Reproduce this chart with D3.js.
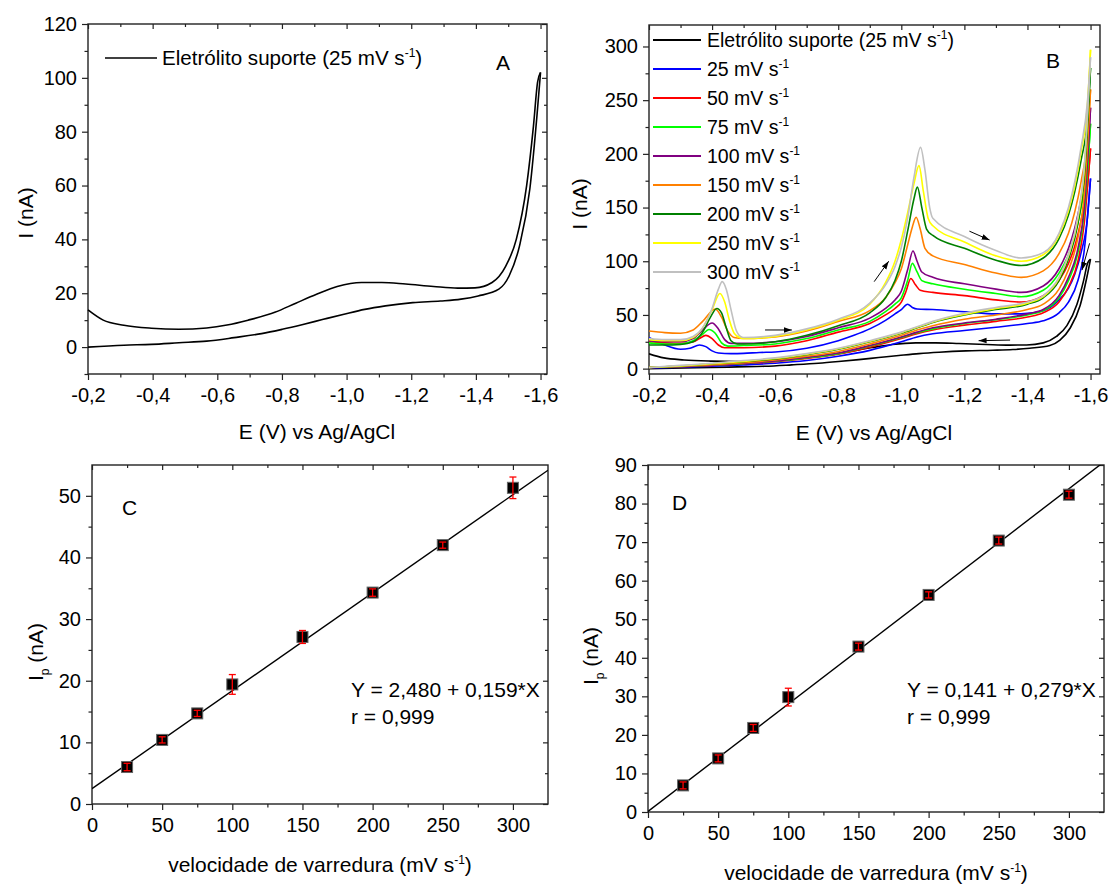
<!DOCTYPE html>
<html>
<head>
<meta charset="utf-8">
<script src="https://cdn.jsdelivr.net/npm/d3@7"></script>
<style>
  body { margin: 0; background: #fff; }
  text { font-family: "Liberation Sans", Arial, sans-serif; fill: #000; }
</style>
</head>
<body>
<div id="chart"></div>
<script>
// ---- data ----

// panel A / black curve in B: supporting electrolyte, 25 mV/s  [E (V), I (nA)]
const blankUpper = [[-0.2,13.8],[-0.247,10],[-0.311,8.1],[-0.396,7],[-0.481,6.6],[-0.567,7.1],[-0.63,8.2],[-0.695,10],
  [-0.78,13],[-0.843,16.3],[-0.907,19.6],[-0.971,22.5],[-1.046,24],[-1.109,24],[-1.183,23.4],[-1.269,22.5],
  [-1.344,21.9],[-1.397,22],[-1.45,24],[-1.492,30],[-1.525,40],[-1.557,60],[-1.578,82],[-1.591,98.5],[-1.6,102]];
const blankLower = [[-0.2,0],[-0.311,0.7],[-0.396,1],[-0.481,1.6],[-0.567,2.2],[-0.652,3.5],[-0.737,5],[-0.801,6.6],
  [-0.865,8.4],[-0.928,10.3],[-0.992,12.2],[-1.056,14],[-1.12,15.3],[-1.205,16.5],[-1.29,17.1],[-1.354,17.8],
  [-1.407,19],[-1.471,21.5],[-1.503,26.5],[-1.535,37.6],[-1.567,58.8],[-1.589,86],[-1.6,102]];

// panel B: forward (upper) and reverse (lower) branches per scan rate
const fwd25 = [[-0.2,29],[-0.25,22],[-0.3,18],[-0.33,19],[-0.36,22],[-0.38,20.5],[-0.4,16.5],[-0.42,14.5],[-0.46,14],
  [-0.5,14.2],[-0.55,15],[-0.6,15.5],[-0.7,19],[-0.8,26],[-0.85,31],[-0.9,37],[-0.95,45],[-0.98,51],[-1.0,55],
  [-1.02,60],[-1.035,57],[-1.05,55.5],[-1.1,55],[-1.2,53],[-1.3,51],[-1.38,51],[-1.45,54],[-1.5,64],[-1.53,75],
  [-1.55,88],[-1.57,108],[-1.59,140],[-1.6,177]];
const rev25 = [[-0.2,0.5],[-0.3,1.3],[-0.4,2.3],[-0.5,3.5],[-0.6,5],[-0.7,7.5],[-0.8,11.5],[-0.9,17],[-1.0,25],
  [-1.05,29.5],[-1.1,32.5],[-1.2,35.5],[-1.3,38.5],[-1.4,42],[-1.45,44.5],[-1.5,52],[-1.53,62],[-1.56,82],
  [-1.58,110],[-1.6,177]];
const fwd50 = [[-0.2,25],[-0.25,24],[-0.3,23.5],[-0.34,25],[-0.36,28],[-0.38,31],[-0.4,28],[-0.42,22],[-0.44,19.5],
  [-0.5,19.5],[-0.6,21],[-0.7,26],[-0.8,34],[-0.9,42],[-0.95,50],[-0.98,56],[-1.0,62],[-1.015,72],[-1.03,84],
  [-1.045,78],[-1.06,73],[-1.1,71],[-1.2,68],[-1.3,64],[-1.38,62],[-1.45,68],[-1.5,82],[-1.53,98],[-1.55,114],
  [-1.57,138],[-1.59,170],[-1.6,205]];
const rev50 = [[-0.2,1],[-0.3,1.8],[-0.4,3],[-0.5,4.5],[-0.6,6.5],[-0.7,9.5],[-0.8,13.5],[-0.9,20],[-1.0,28],
  [-1.05,32.5],[-1.1,36],[-1.2,40.5],[-1.3,44],[-1.4,48],[-1.45,52],[-1.5,62],[-1.53,76],[-1.56,100],
  [-1.58,135],[-1.6,205]];
const fwd75 = [[-0.2,24],[-0.25,23],[-0.3,23],[-0.34,26],[-0.37,32],[-0.39,36.5],[-0.41,33],[-0.43,24],[-0.45,21],
  [-0.5,21.5],[-0.6,23],[-0.7,28],[-0.8,36],[-0.9,44],[-0.95,53],[-0.98,60],[-1.0,66],[-1.02,82],[-1.035,98],
  [-1.05,90],[-1.065,82],[-1.1,79],[-1.2,74],[-1.3,70],[-1.38,67],[-1.45,73],[-1.5,89],[-1.53,106],[-1.55,124],
  [-1.57,150],[-1.59,185],[-1.6,228]];
const rev75 = [[-0.2,1],[-0.3,2],[-0.4,3.2],[-0.5,4.8],[-0.6,7],[-0.7,10],[-0.8,14],[-0.9,21],[-1.0,29],
  [-1.05,33.5],[-1.1,37],[-1.2,42],[-1.3,45.5],[-1.4,50],[-1.45,54],[-1.5,66],[-1.53,82],[-1.56,108],
  [-1.58,145],[-1.6,228]];
const fwd100 = [[-0.2,26],[-0.25,25],[-0.3,25],[-0.34,28],[-0.37,36],[-0.4,42.5],[-0.42,37],[-0.44,27],[-0.46,23.5],
  [-0.5,23.5],[-0.6,25],[-0.7,30],[-0.8,38],[-0.9,47],[-0.95,56],[-0.98,64],[-1.0,72],[-1.02,92],[-1.037,109.5],
  [-1.05,100],[-1.065,90],[-1.1,85],[-1.2,79],[-1.3,74],[-1.38,71],[-1.45,77],[-1.5,93],[-1.53,112],[-1.55,131],
  [-1.57,158],[-1.59,196],[-1.6,243]];
const rev100 = [[-0.2,1],[-0.3,2],[-0.4,3.3],[-0.5,5],[-0.6,7.2],[-0.7,10.5],[-0.8,14.5],[-0.9,21.5],[-1.0,29.5],
  [-1.05,34],[-1.1,38],[-1.2,42.5],[-1.3,46],[-1.4,51],[-1.45,55],[-1.5,68],[-1.53,85],[-1.56,112],
  [-1.58,150],[-1.6,243]];
const fwd150 = [[-0.2,35],[-0.25,33.5],[-0.3,33],[-0.34,36],[-0.37,44],[-0.41,55.5],[-0.43,48],[-0.45,35],[-0.47,29],
  [-0.5,28],[-0.6,29.5],[-0.7,35],[-0.8,44],[-0.9,54],[-0.95,66],[-0.98,80],[-1.0,93],[-1.02,115],[-1.035,132],
  [-1.047,141],[-1.06,130],[-1.075,112],[-1.1,105],[-1.2,97],[-1.3,89],[-1.38,85],[-1.45,91],[-1.5,107],
  [-1.53,126],[-1.55,146],[-1.57,174],[-1.59,214],[-1.6,260]];
const rev150 = [[-0.2,1.2],[-0.3,2.2],[-0.4,3.6],[-0.5,5.5],[-0.6,8],[-0.7,11.5],[-0.8,16],[-0.9,23],[-1.0,31],
  [-1.05,36],[-1.1,40],[-1.2,46],[-1.3,50],[-1.4,55],[-1.45,60],[-1.5,74],[-1.53,92],[-1.56,122],
  [-1.58,162],[-1.6,260]];
const fwd200 = [[-0.2,22],[-0.25,22],[-0.3,22.5],[-0.34,25],[-0.37,34],[-0.395,48],[-0.415,56],[-0.43,52],[-0.445,38],
  [-0.46,26],[-0.48,23],[-0.5,23],[-0.6,25],[-0.7,31],[-0.8,40],[-0.9,52],[-0.95,66],[-0.98,82],[-1.0,100],
  [-1.02,128],[-1.04,158],[-1.051,169],[-1.065,150],[-1.08,130],[-1.1,124],[-1.2,112],[-1.3,101],[-1.38,96],
  [-1.45,103],[-1.5,121],[-1.53,143],[-1.55,165],[-1.57,194],[-1.59,232],[-1.6,280]];
const rev200 = [[-0.2,1],[-0.3,2.5],[-0.4,4.5],[-0.5,6.5],[-0.6,9],[-0.7,13],[-0.8,18],[-0.9,25],[-1.0,33],
  [-1.05,38],[-1.1,43],[-1.2,50],[-1.3,55],[-1.4,60],[-1.45,66],[-1.5,82],[-1.53,102],[-1.56,135],
  [-1.58,178],[-1.6,280]];
const fwd250 = [[-0.2,27],[-0.25,26],[-0.3,26],[-0.34,29],[-0.37,38],[-0.4,55],[-0.425,70],[-0.44,62],[-0.455,45],
  [-0.47,33],[-0.49,28.5],[-0.5,28],[-0.6,30],[-0.7,36],[-0.8,45],[-0.9,60],[-0.95,80],[-0.98,100],[-1.0,120],
  [-1.02,145],[-1.04,172],[-1.056,189],[-1.07,165],[-1.085,140],[-1.1,133],[-1.2,118],[-1.3,105],[-1.38,100],
  [-1.45,106],[-1.5,124],[-1.53,147],[-1.55,170],[-1.57,202],[-1.59,245],[-1.6,297]];
const rev250 = [[-0.2,1],[-0.3,2.5],[-0.4,4.5],[-0.5,6.8],[-0.6,9.5],[-0.7,13.5],[-0.8,18.5],[-0.9,25.5],[-1.0,33.5],
  [-1.05,38.5],[-1.1,43.5],[-1.2,50.5],[-1.3,56],[-1.4,61],[-1.45,67],[-1.5,84],[-1.53,105],[-1.56,140],
  [-1.58,185],[-1.6,297]];
const fwd300 = [[-0.2,28],[-0.25,27],[-0.3,27],[-0.34,30],[-0.37,38],[-0.4,56],[-0.42,74],[-0.432,81],[-0.445,74],
  [-0.46,55],[-0.475,37],[-0.49,30],[-0.5,29],[-0.6,31],[-0.7,37],[-0.8,46],[-0.9,61],[-0.95,78],[-0.98,95],
  [-1.0,113],[-1.02,140],[-1.04,178],[-1.061,206],[-1.075,185],[-1.09,150],[-1.1,140],[-1.2,123],[-1.3,110],
  [-1.38,103],[-1.45,108],[-1.5,126],[-1.53,150],[-1.55,174],[-1.57,206],[-1.59,248],[-1.6,290]];
const rev300 = [[-0.2,1],[-0.3,3],[-0.4,5],[-0.5,7.5],[-0.6,10],[-0.7,14],[-0.8,19],[-0.9,26],[-1.0,34],
  [-1.05,39],[-1.1,44],[-1.2,51.5],[-1.3,57],[-1.4,62],[-1.45,68],[-1.5,85],[-1.53,106],[-1.56,142],
  [-1.58,188],[-1.6,290]];

const scanRates = [25, 50, 75, 100, 150, 200, 250, 300];
const scanColors = ["#0000ff", "#ff0000", "#00ff00", "#800080", "#ff8000", "#008000", "#ffff00", "#c0c0c0"];
const scanBranches = [[fwd25, rev25], [fwd50, rev50], [fwd75, rev75], [fwd100, rev100],
  [fwd150, rev150], [fwd200, rev200], [fwd250, rev250], [fwd300, rev300]];

// arrows in B: [E0, I0, E1, I1]
const arrowsB = [[-0.568,36,-0.653,36],[-0.914,81,-0.96,100],[-1.216,128,-1.28,119.7],
  [-1.597,116.7,-1.573,91.8],[-1.345,26.6,-1.245,26]];

// panels C and D: peak current vs scan rate
const rateC = [25, 50, 75, 100, 150, 200, 250, 300];
const ipC = [6.0, 10.4, 14.7, 19.4, 27.1, 34.3, 42.0, 51.3];
const errC = [0.6, 0.5, 0.5, 1.6, 1.05, 0.6, 0.5, 1.75];
const fitC = [2.480, 0.159];
const rateD = [25, 50, 75, 100, 150, 200, 250, 300];
const ipD = [6.9, 13.9, 21.8, 29.8, 42.9, 56.3, 70.4, 82.3];
const errD = [0.9, 0.9, 0.9, 2.3, 0.9, 0.8, 0.9, 0.9];
const fitD = [0.141, 0.279];

// ticks
const eMajor = [-0.2, -0.4, -0.6, -0.8, -1.0, -1.2, -1.4, -1.6];
const eMinor = [-0.3, -0.5, -0.7, -0.9, -1.1, -1.3, -1.5];
const iMajorA = [0, 20, 40, 60, 80, 100, 120];
const iMinorA = [-10, 10, 30, 50, 70, 90, 110];
const iMajorB = [0, 50, 100, 150, 200, 250, 300];
const iMinorB = [25, 75, 125, 175, 225, 275];
const vMajor = [0, 50, 100, 150, 200, 250, 300];
const vMinor = [25, 75, 125, 175, 225, 275];
const iMajorC = [0, 10, 20, 30, 40, 50];
const iMinorC = [5, 15, 25, 35, 45];
const iMajorD = [0, 10, 20, 30, 40, 50, 60, 70, 80, 90];
const iMinorD = [5, 15, 25, 35, 45, 55, 65, 75, 85];

// ---- drawing ----
const W = 1109, H = 884;
const svg = d3.select("#chart").append("svg")
  .attr("width", W).attr("height", H);

const defs = svg.append("defs");
defs.append("marker")
  .attr("id", "head").attr("viewBox", "0 0 10 10")
  .attr("refX", 10).attr("refY", 5)
  .attr("markerWidth", 8).attr("markerHeight", 8)
  .attr("markerUnits", "userSpaceOnUse")
  .attr("orient", "auto")
  .append("path").attr("d", "M0,1.5 L10,5 L0,8.5 z").attr("fill", "#000");

const commaFmt = d => d.toFixed(1).replace(".", ",");
const intFmt = d => String(d);

function panel(box, xDom, yDom, xMajor, xMinor, yMajor, yMinor, xFmt, id) {
  const x = d3.scaleLinear().domain(xDom).range([box.l, box.r]);
  const y = d3.scaleLinear().domain(yDom).range([box.b, box.t]);
  const g = svg.append("g");

  g.append("clipPath").attr("id", id)
    .append("rect").attr("x", box.l).attr("y", box.t)
    .attr("width", box.r - box.l).attr("height", box.b - box.t);

  const axes = [
    [d3.axisBottom(x).tickValues(xMajor).tickSize(6).tickPadding(8).tickFormat(xFmt), `translate(0,${box.b})`],
    [d3.axisBottom(x).tickValues(xMinor).tickSize(3.5).tickFormat(""), `translate(0,${box.b})`],
    [d3.axisTop(x).tickValues(xMajor).tickSize(-5).tickFormat(""), `translate(0,${box.t})`],
    [d3.axisTop(x).tickValues(xMinor).tickSize(-3).tickFormat(""), `translate(0,${box.t})`],
    [d3.axisLeft(y).tickValues(yMajor).tickSize(6).tickPadding(5).tickFormat(intFmt), `translate(${box.l},0)`],
    [d3.axisLeft(y).tickValues(yMinor).tickSize(3.5).tickFormat(""), `translate(${box.l},0)`],
    [d3.axisRight(y).tickValues(yMajor).tickSize(-5).tickFormat(""), `translate(${box.r},0)`],
    [d3.axisRight(y).tickValues(yMinor).tickSize(-3).tickFormat(""), `translate(${box.r},0)`]
  ];
  axes.forEach(([ax, tr]) => {
    const a = g.append("g").attr("transform", tr).call(ax);
    a.select(".domain").remove();
    a.selectAll("line").attr("stroke", "#222").attr("stroke-width", 1.2);
    a.selectAll("text").attr("font-size", 20).attr("font-family", "Liberation Sans, Arial, sans-serif").attr("fill", "#000");
  });

  g.append("rect")
    .attr("x", box.l).attr("y", box.t)
    .attr("width", box.r - box.l).attr("height", box.b - box.t)
    .attr("fill", "none").attr("stroke", "#222").attr("stroke-width", 1.4);

  return { g, x, y };
}

function withSup(sel, before, sup, after) {
  sel.append("tspan").text(before);
  sel.append("tspan").attr("font-size", 12).attr("dy", -8).text(sup);
  if (after) sel.append("tspan").attr("dy", 8).text(after);
}

function yTitle(cx, cy, sub) {
  const t = svg.append("text")
    .attr("transform", `translate(${cx},${cy}) rotate(-90)`)
    .attr("text-anchor", "middle").attr("font-size", 21);
  t.append("tspan").text("I");
  if (sub) {
    t.append("tspan").attr("font-size", 12).attr("dy", 6).text("p");
    t.append("tspan").attr("dy", -6).text(" (nA)");
  } else {
    t.append("tspan").text(" (nA)");
  }
}

function xTitle(cx, cy, text, sup) {
  const t = svg.append("text").attr("x", cx).attr("y", cy)
    .attr("text-anchor", "middle").attr("font-size", 21);
  if (sup) withSup(t, text, "-1", ")");
  else t.text(text);
}

// ---------- panel A ----------
const A = panel({ l: 88, r: 547, t: 24, b: 374 }, [-0.2, -1.62], [-10, 120],
  eMajor, eMinor, iMajorA, iMinorA, commaFmt, "clipA");
const lineA = d3.line().x(d => A.x(d[0])).y(d => A.y(d[1])).curve(d3.curveMonotoneX);
[blankUpper, blankLower].forEach(br => {
  A.g.append("path").attr("d", lineA(br)).attr("fill", "none")
    .attr("stroke", "#000").attr("stroke-width", 1.6);
});
A.g.append("line").attr("x1", 105).attr("x2", 157).attr("y1", 58).attr("y2", 58)
  .attr("stroke", "#000").attr("stroke-width", 1.6);
withSup(A.g.append("text").attr("x", 162).attr("y", 65).attr("font-size", 20.6),
  "Eletrólito suporte (25 mV s", "-1", ")");
A.g.append("text").attr("x", 496).attr("y", 70).attr("font-size", 21).text("A");
yTitle(33, 213, false);
xTitle(317, 439, "E (V) vs Ag/AgCl", false);

// ---------- panel B ----------
const B = panel({ l: 649, r: 1100, t: 25, b: 374 }, [-0.2, -1.63], [-5, 320],
  eMajor, eMinor, iMajorB, iMinorB, commaFmt, "clipB");
const lineB = d3.line().x(d => B.x(d[0])).y(d => B.y(d[1])).curve(d3.curveMonotoneX);
const curvesB = B.g.append("g").attr("clip-path", "url(#clipB)");
[blankUpper, blankLower].forEach(br => {
  curvesB.append("path").attr("d", lineB(br)).attr("fill", "none")
    .attr("stroke", "#000").attr("stroke-width", 1.6);
});
scanBranches.forEach((pair, i) => {
  pair.forEach(br => {
    curvesB.append("path").attr("d", lineB(br)).attr("fill", "none")
      .attr("stroke", scanColors[i]).attr("stroke-width", 1.6);
  });
});
arrowsB.forEach(a => {
  B.g.append("line")
    .attr("x1", B.x(a[0])).attr("y1", B.y(a[1]))
    .attr("x2", B.x(a[2])).attr("y2", B.y(a[3]))
    .attr("stroke", "#000").attr("stroke-width", 1)
    .attr("marker-end", "url(#head)");
});
// legend
const legendLabels = ["Eletrólito suporte (25 mV s"].concat(scanRates.map(r => r + " mV s"));
const legendColors = ["#000"].concat(scanColors);
legendLabels.forEach((lab, i) => {
  const yy = 40 + i * 29;
  B.g.append("line").attr("x1", 653).attr("x2", 701).attr("y1", yy).attr("y2", yy)
    .attr("stroke", legendColors[i]).attr("stroke-width", 2);
  withSup(B.g.append("text").attr("x", 707).attr("y", yy + 7).attr("font-size", 19.5),
    lab, "-1", i === 0 ? ")" : null);
});
B.g.append("text").attr("x", 1046).attr("y", 68).attr("font-size", 21).text("B");
yTitle(587, 204, false);
xTitle(874, 440, "E (V) vs Ag/AgCl", false);

// ---------- panel C and D ----------
function ipPanel(box, yDom, yMajor, yMinor, rates, ip, err, fit, letter, letterPos, eqPos, eqText, id) {
  const P = panel(box, [0, 325], yDom, vMajor, vMinor, yMajor, yMinor, intFmt, id);
  const fitLine = d3.line().x(d => P.x(d)).y(d => P.y(fit[0] + fit[1] * d));
  P.g.append("path").attr("d", fitLine([0, 325])).attr("clip-path", `url(#${id})`)
    .attr("fill", "none").attr("stroke", "#000").attr("stroke-width", 1.4);
  const pts = P.g.append("g");
  rates.forEach((r, i) => {
    const cx = P.x(r), cy = P.y(ip[i]);
    pts.append("rect").attr("x", cx - 5.5).attr("y", cy - 5.5).attr("width", 11).attr("height", 11)
      .attr("fill", "#000").attr("stroke", "#666").attr("stroke-width", 1);
    const y0 = P.y(ip[i] - err[i]), y1 = P.y(ip[i] + err[i]);
    pts.append("line").attr("x1", cx).attr("x2", cx).attr("y1", y0).attr("y2", y1)
      .attr("stroke", "#ff0000").attr("stroke-width", 1.3);
    [y0, y1].forEach(yy => pts.append("line").attr("x1", cx - 3.5).attr("x2", cx + 3.5)
      .attr("y1", yy).attr("y2", yy).attr("stroke", "#ff0000").attr("stroke-width", 1.3));
  });
  P.g.append("text").attr("x", letterPos[0]).attr("y", letterPos[1]).attr("font-size", 21).text(letter);
  P.g.append("text").attr("x", eqPos[0]).attr("y", eqPos[1]).attr("font-size", 21).text(eqText);
  P.g.append("text").attr("x", eqPos[0]).attr("y", eqPos[1] + 27).attr("font-size", 21).text("r = 0,999");
  return P;
}

ipPanel({ l: 92, r: 548, t: 465, b: 804 }, [0, 55], iMajorC, iMinorC, rateC, ipC, errC, fitC,
  "C", [122, 515], [351, 697], "Y = 2,480 + 0,159*X", "clipC");
yTitle(43, 652, true);
xTitle(320, 872, "velocidade de varredura (mV s", true);

ipPanel({ l: 648, r: 1104, t: 465, b: 812 }, [0, 90], iMajorD, iMinorD, rateD, ipD, errD, fitD,
  "D", [672, 510], [907, 697], "Y = 0,141 + 0,279*X", "clipD");
yTitle(598, 656, true);
xTitle(876, 880, "velocidade de varredura (mV s", true);
</script>
</body>
</html>
